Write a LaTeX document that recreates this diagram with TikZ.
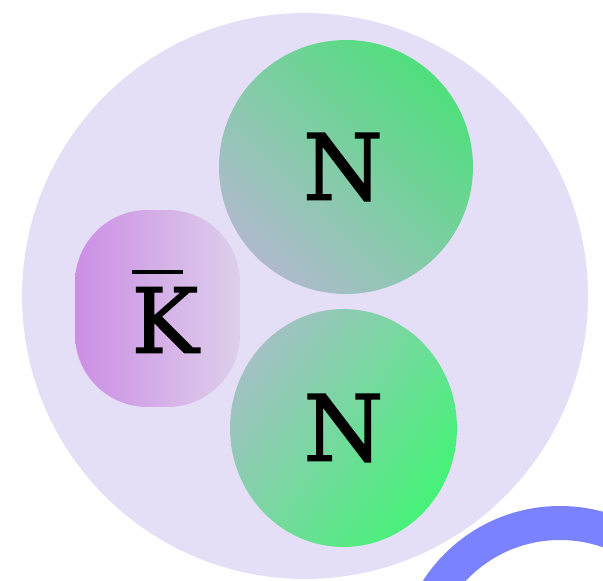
\documentclass[tikz,border=0pt]{standalone}
\usepackage{fontspec}
\setmainfont[FakeBold=1.6]{DejaVu Serif}
\usetikzlibrary{shapes,positioning}

\definecolor{cloudlav}{HTML}{E4DFF7}
\definecolor{ringblue}{HTML}{7B82FF}
\definecolor{kaonpink}{HTML}{CC8EE4}
\definecolor{kaonpale}{HTML}{DDCFEB}
\definecolor{nucgreen}{HTML}{50DF7C}
\definecolor{nucteal}{HTML}{70B899}
\definecolor{nucgray}{HTML}{AFBACD}
\definecolor{nucbright}{HTML}{46F277}
\definecolor{nucsea}{HTML}{6CC496}
\definecolor{nucmist}{HTML}{A2C1C3}

\begin{document}
\begin{tikzpicture}[x=0.02cm, y=-0.02cm]
    % Frame of the picture
    \useasboundingbox (0,0) rectangle (603,581);
    \clip (0,0) rectangle (603,581);
    \fill[white] (0,0) rectangle (603,581);

    % Bound state cloud
    \node[circle, fill=cloudlav, minimum size=11.32cm, inner sep=0pt] (cloud) at (305,296) {};

    % Constituents
    \node[circle, minimum size=5.08cm, inner sep=0pt, top color=nucgreen, middle color=nucteal, bottom color=nucgray, shading angle=-45, font=\fontsize{52}{60}\selectfont] (nucleonA) at (346,167) {\hspace*{-0.12cm}N};
    \node[ellipse, minimum width=4.54cm, minimum height=4.76cm, inner sep=0pt, top color=nucmist, middle color=nucsea, bottom color=nucbright, shading angle=55, font=\fontsize{52}{60}\selectfont] (nucleonB) at (343.5,428) {\raisebox{-0.17cm}{N}};
    \node[rectangle, rounded corners=1.45cm, minimum width=3.3cm, minimum height=3.94cm, inner sep=0pt, left color=kaonpink, right color=kaonpale] (antikaon) at (157.5,308.5) {};

    % Anti-kaon letter with its bar
    \node[inner sep=0pt, font=\fontsize{51}{60}\selectfont] (kaonletter) at (165,320) {K};
    \draw[line width=0.08cm] ([xshift=0.02cm, yshift=0.3cm]kaonletter.north west) -- ++(1.02cm,0);

    % Neighbouring ring
    \draw[ringblue, line width=0.68cm] (560,669) circle (146);
\end{tikzpicture}
\end{document}
